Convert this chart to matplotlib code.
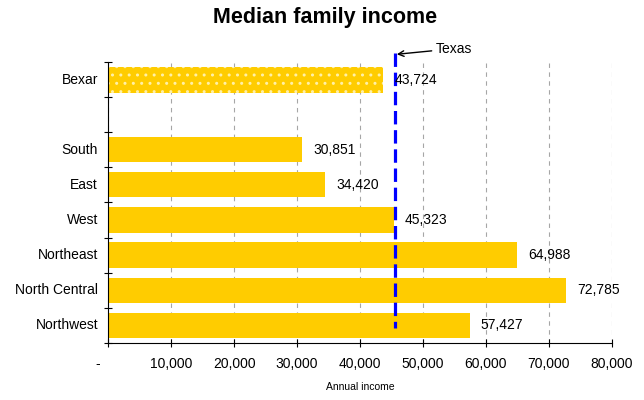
import matplotlib
matplotlib.use("Agg")
import matplotlib.pyplot as plt
from matplotlib.ticker import FuncFormatter

plt.rcParams['font.family'] = ['Liberation Sans', 'DejaVu Sans']
plt.rcParams['hatch.linewidth'] = 1.0

# Valores (renda familiar mediana, em dólares)
county = "Bexar"
county_value = 43724
regions = ["South", "East", "West", "Northeast", "North Central", "Northwest"]
region_values = [30851, 34420, 45323, 64988, 72785, 57427]
texas_value = 45550
x_ticks = [0, 10000, 20000, 30000, 40000, 50000, 60000, 70000, 80000]

bar_color = "#FFCC00"

fig = plt.figure(figsize=(6.44, 4.0), dpi=100)
ax = fig.add_axes([0.168, 0.143, 0.782, 0.702])

# Posições: condado no topo, uma linha vazia, depois as regiões
pos_county = 0
pos_regions = list(range(2, 2 + len(regions)))

ax.barh(pos_county, county_value, height=0.74, color=bar_color,
        edgecolor="#FFF0A8", linewidth=0, hatch="..", zorder=2)
ax.barh(pos_regions, region_values, height=0.72, color=bar_color,
        linewidth=0, zorder=2)

# Rótulos de valor ao lado das barras
for p, v in zip([pos_county] + pos_regions, [county_value] + region_values):
    ax.annotate(f"{v:,}", xy=(v, p), xytext=(8, 0), textcoords="offset points",
                va="center", ha="left", fontsize=10, zorder=4)

# Linha de referência do Texas
ax.plot([texas_value, texas_value], [-0.76, 7.08], color="#0000FF", lw=2.3,
        dashes=(4.2, 1.8), clip_on=False, zorder=3)
ax.annotate("Texas", xy=(texas_value + 300, -0.72), xytext=(texas_value + 6500, -0.88),
            fontsize=10, va="center", ha="left",
            arrowprops=dict(arrowstyle="->", color="black", lw=1.0,
                            shrinkA=1, shrinkB=0),
            annotation_clip=False)

# Eixos
ax.set_xlim(0, 80000)
ax.set_ylim(7.5, -0.5)
ax.set_xticks(x_ticks)
ax.xaxis.set_major_formatter(FuncFormatter(lambda v, _: "-     " if v == 0 else f"{int(v):,}"))
ax.tick_params(axis="x", direction="inout", length=6, width=0.8, pad=7, labelsize=10)

ax.set_yticks([y - 0.5 for y in range(9)])
ax.set_yticklabels([])
ax.tick_params(axis="y", direction="inout", length=6, width=0.8)
for p, name in zip([pos_county] + pos_regions, [county] + regions):
    ax.text(-0.02, p, name, transform=ax.get_yaxis_transform(),
            ha="right", va="center", fontsize=10)

ax.xaxis.grid(True, color="#A6A6A6", linestyle=(0, (4, 4)), lw=0.8, zorder=0)
ax.set_axisbelow(True)
for s in ["top", "right"]:
    ax.spines[s].set_visible(False)
ax.spines["left"].set_linewidth(0.8)
ax.spines["bottom"].set_linewidth(0.8)

ax.set_xlabel("Annual income", fontsize=7.5, labelpad=8)
fig.text(0.505, 0.955, "Median family income", ha="center", va="center",
         fontsize=15.5, fontweight="bold")

fig.savefig("out.png", dpi=100)
